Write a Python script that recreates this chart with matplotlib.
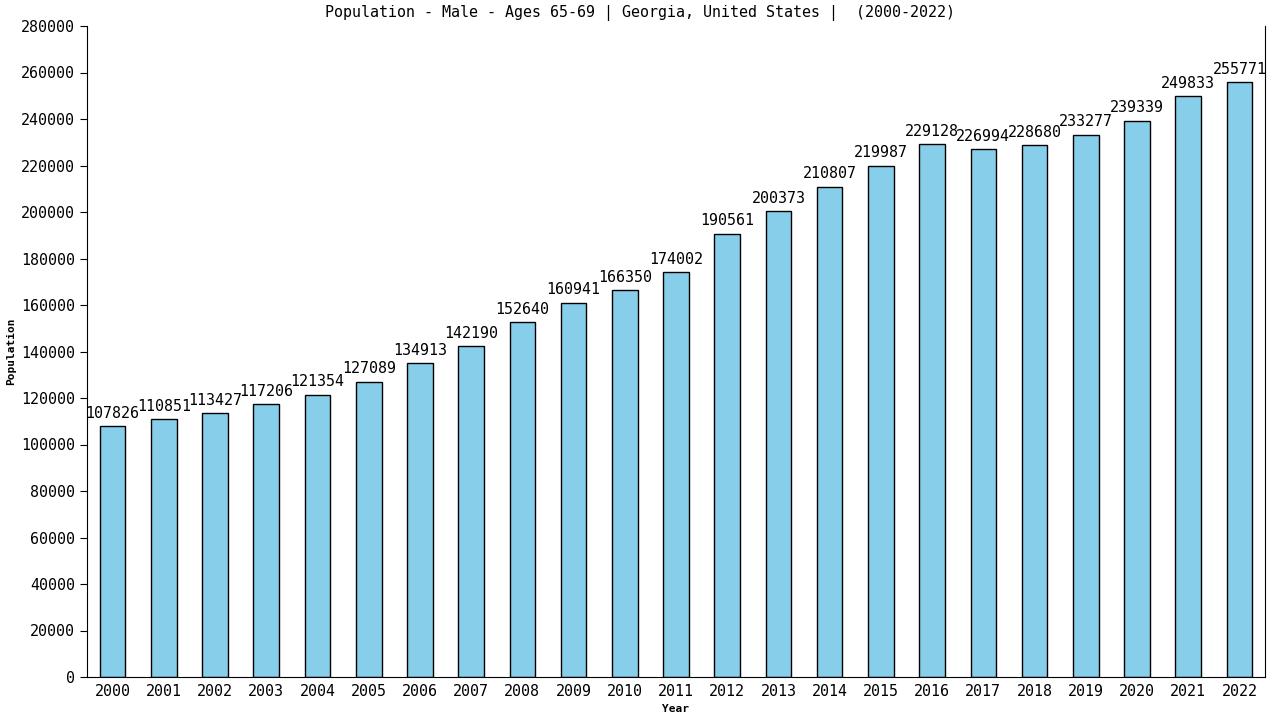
import matplotlib.pyplot as plt

years = [str(y) for y in range(2000, 2023)]
population = [107826, 110851, 113427, 117206, 121354, 127089, 134913, 142190,
              152640, 160941, 166350, 174002, 190561, 200373, 210807, 219987,
              229128, 226994, 228680, 233277, 239339, 249833, 255771]

plt.rcParams['font.family'] = 'DejaVu Sans Mono'

fig = plt.figure(figsize=(12.8, 7.2), dpi=100)
ax = fig.add_axes([87 / 1280, 43 / 720, 1178 / 1280, 651 / 720])

x = list(range(len(years)))
ax.bar(x, population, width=0.5, color='#87ceeb', edgecolor='black', linewidth=1)
for xi, v in zip(x, population):
    ax.annotate(str(v), (xi, v), xytext=(0, 4), textcoords='offset points',
                ha='center', va='bottom', fontsize=10.8)

ax.set_xlim(-0.5, 22.5)
ax.set_ylim(0, 280000)
ax.set_yticks(range(0, 280001, 20000))
ax.set_xticks(x)
ax.set_xticklabels(years)
ax.tick_params(axis='y', length=5, labelsize=10.8)
ax.tick_params(axis='x', length=0, labelsize=10.8, pad=5)
ax.spines['top'].set_visible(False)

fig.text(0.5, 1 - 13 / 720, 'Population - Male - Ages 65-69 | Georgia, United States |  (2000-2022)',
         ha='center', va='center', fontsize=10.8)
ax.set_xlabel('Year', fontsize=8, fontweight='bold', labelpad=4)
ax.set_ylabel('Population', fontsize=8, fontweight='bold', labelpad=4)

fig.savefig('out.png')
